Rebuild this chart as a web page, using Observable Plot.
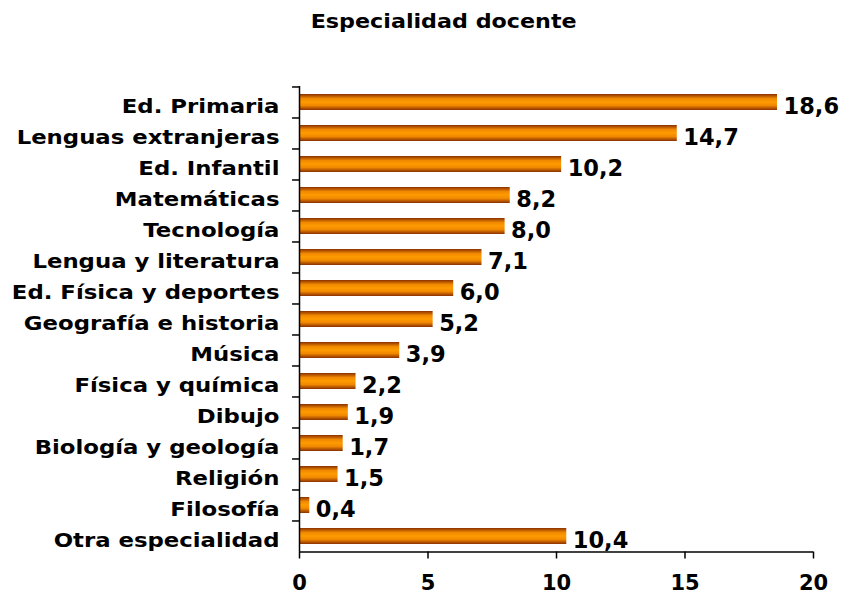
<!DOCTYPE html>
<html>
<head>
<meta charset="utf-8">
<script src="https://cdn.jsdelivr.net/npm/d3@7"></script>
<script src="https://cdn.jsdelivr.net/npm/@observablehq/plot@0.6"></script>
<style>
  body { margin: 0; background: #fff; position: relative; width: 846px; height: 596px; overflow: hidden; }
  #title { position: absolute; top: 10px; left: 0; width: 846px; height: 34px; text-align: center; font: bold 19px "DejaVu Sans", Verdana, sans-serif; line-height: normal; }
  #title span { display: inline-block; transform: scaleX(1.17); transform-origin: 50% 50%; margin-left: 42px; }
  #chart { position: absolute; top: 44px; left: 0; }
</style>
</head>
<body>
<div id="title"><span>Especialidad docente</span></div>
<div id="chart"></div>
<script>
const categories = ["Ed. Primaria", "Lenguas extranjeras", "Ed. Infantil", "Matemáticas", "Tecnología", "Lengua y literatura", "Ed. Física y deportes", "Geografía e historia", "Música", "Física y química", "Dibujo", "Biología y geología", "Religión", "Filosofía", "Otra especialidad"];
const values = [18.6, 14.7, 10.2, 8.2, 8.0, 7.1, 6.0, 5.2, 3.9, 2.2, 1.9, 1.7, 1.5, 0.4, 10.4];
const xTicks = [0, 5, 10, 15, 20];

const data = categories.map((c, i) => ({category: c, value: values[i]}));
const W = 846, H = 552, mT = 42, mB = 44.5, mL = 299, mR = 33;
const step = (H - mT - mB) / categories.length;
const fmt = v => v.toFixed(1).replace(".", ",");

const chart = Plot.plot({
  width: W, height: H,
  marginTop: mT, marginBottom: mB, marginLeft: mL, marginRight: mR,
  style: {fontFamily: "'DejaVu Sans', Verdana, sans-serif", fontWeight: "bold", color: "#000", background: "#fff"},
  x: {domain: [0, 20], ticks: xTicks},
  y: {domain: categories, paddingInner: 0.47, paddingOuter: 0.235},
  marks: [
    Plot.barX(data, {y: "category", x: "value", fill: "url(#barGrad)"}),
    Plot.text(data, {y: "category", x: "value", text: d => fmt(d.value), textAnchor: "start", dx: 6, dy: 4, fontSize: 22.5, fontWeight: "bold", fill: "#000"}),
    Plot.ruleY(categories, {y: d => d, x1: -0.27, x2: 0, dy: -step / 2, stroke: "#000", strokeWidth: 1.5}),
    Plot.ruleY([categories[categories.length - 1]], {y: d => d, x1: 0, x2: 20, dy: step / 2, stroke: "#000", strokeWidth: 1.5}),
    Plot.ruleX([0], {stroke: "#000", strokeWidth: 1.5}),
    Plot.axisX({ticks: xTicks, tickSize: 7, tickPadding: 16, fontSize: 21, fontWeight: "bold", label: null, stroke: "#000", strokeWidth: 1.5}),
    Plot.axisY({tickSize: 0, tickPadding: 20, fontSize: 19, fontWeight: "bold", label: null, dy: 4})
  ]
});

const ns = "http://www.w3.org/2000/svg";
const defs = document.createElementNS(ns, "defs");
defs.innerHTML = `<linearGradient id="barGrad" x1="0" y1="0" x2="0" y2="1">
  <stop offset="0%" stop-color="#8a3000"/>
  <stop offset="28%" stop-color="#f08800"/>
  <stop offset="50%" stop-color="#ff9c00"/>
  <stop offset="72%" stop-color="#f08800"/>
  <stop offset="100%" stop-color="#8a3000"/>
</linearGradient>`;
chart.insertBefore(defs, chart.firstChild);

// stretch the category labels horizontally (anchored at their right end)
const yLabelGroup = chart.querySelector('g[aria-label="y-axis tick label"]');
if (yLabelGroup) {
  yLabelGroup.querySelectorAll("text").forEach(t => {
    let tr = t.getAttribute("transform");
    if (!tr) {
      const x = t.getAttribute("x") || 0, y = t.getAttribute("y") || 0;
      t.removeAttribute("x"); t.removeAttribute("y");
      tr = `translate(${x},${y})`;
    }
    t.setAttribute("transform", tr + " scale(1.2,1)");
  });
}
document.getElementById("chart").appendChild(chart);
</script>
</body>
</html>
